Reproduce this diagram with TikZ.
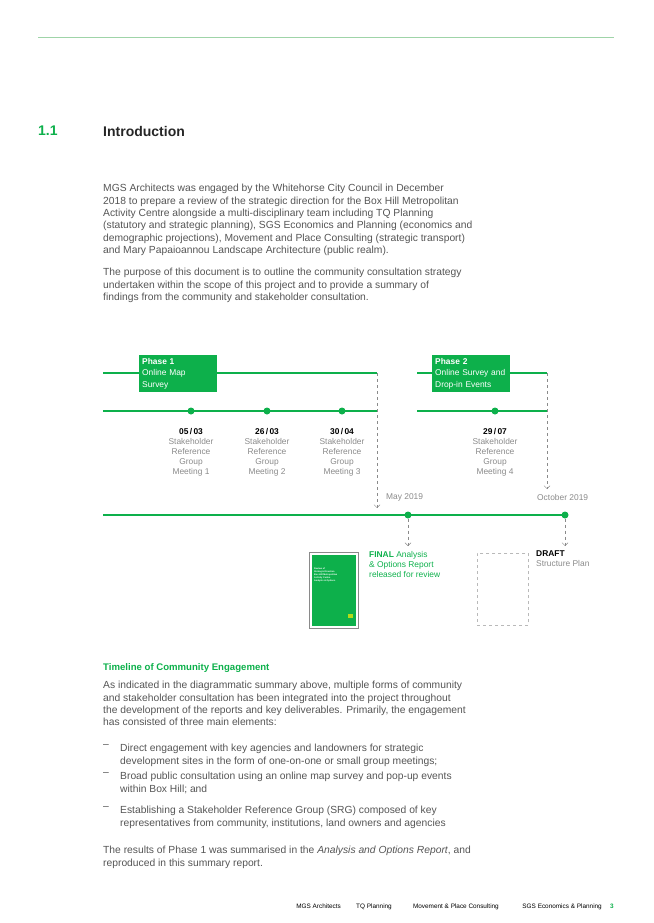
\documentclass[tikz,border=0pt]{standalone}
\usepackage{fontspec}
\setmainfont{Liberation Sans}
\usetikzlibrary{arrows.meta}
\definecolor{grn}{HTML}{0DB04B}
\definecolor{lgrn}{HTML}{9FD4A8}
\definecolor{txt}{HTML}{555555}
\definecolor{gr}{HTML}{8A8A8A}
\begin{document}
\begin{tikzpicture}[x=1pt,y=-1pt,
  body/.style={anchor=west,inner sep=0pt,font=\fontsize{10.3}{12.4}\selectfont,text=txt,align=left},
  small/.style={inner sep=0pt,font=\fontsize{8.4}{10}\selectfont,text=gr,align=center},
  tl/.style={grn,line width=1.3pt},
  dot/.style={circle,fill=grn,inner sep=0pt,minimum size=7pt},
  dsh/.style={gr,dashed,line width=0.4pt,-{Straight Barb[length=3pt,width=6pt]}},
  phase/.style={fill=grn,text=white,anchor=north west,inner sep=3pt,minimum width=78pt,minimum height=37pt,align=left,font=\fontsize{8.4}{11.5}\selectfont,text width=72pt},
  foot/.style={anchor=base east,inner sep=0pt,font=\fontsize{6.4}{7}\selectfont,text=black}]
\useasboundingbox (0,0) rectangle (653,923);
\draw[lgrn,line width=0.8pt] (38,37) -- (614,37);
\node[anchor=west,inner sep=0pt,text=grn,font=\fontsize{14}{16}\selectfont\bfseries] (num) at (38,131) {1.1};
\node[anchor=west,inner sep=0pt,font=\fontsize{14}{16}\selectfont\bfseries,text=black!85] (intro) at (103,131) {Introduction};
\node[body,anchor=north west] (p1) at (103,184) {MGS Architects was engaged by the Whitehorse City Council in December\\2018 to prepare a review of the strategic direction for the Box Hill Metropolitan\\Activity Centre alongside a multi-disciplinary team including TQ Planning\\(statutory and strategic planning), SGS Economics and Planning (economics and\\demographic projections), Movement and Place Consulting (strategic transport)\\and Mary Papaioannou Landscape Architecture (public realm).};
\node[body,anchor=north west] (p2) at (103,268) {The purpose of this document is to outline the community consultation strategy\\undertaken within the scope of this project and to provide a summary of\\findings from the community and stakeholder consultation.};
% timeline phase 1
\coordinate (a1) at (103,373); \coordinate (a2) at (377,373);
\coordinate (b1) at (103,411); \coordinate (b2) at (377,411);
\draw[tl] (a1) -- (a2); \draw[tl] (b1) -- (b2);
\node[phase] (ph1) at (139,355) {\textbf{Phase 1}\\Online Map\\Survey};
\coordinate (c1) at (417,373); \coordinate (c2) at (547,373);
\coordinate (d1) at (417,411); \coordinate (d2) at (547,411);
\draw[tl] (c1) -- (c2); \draw[tl] (d1) -- (d2);
\node[phase] (ph2) at (432,355) {\textbf{Phase 2}\\Online Survey and\\Drop-in Events};
\foreach \n/\x/\d/\m in {m1/191/{05\,/\,03}/1,m2/267/{26\,/\,03}/2,m3/342/{30\,/\,04}/3,m4/495/{29\,/\,07}/4}{
  \node[dot] (\n) at (\x,411) {};
  \node[small,anchor=north] (\n t) at (\x,428) {{\color{black}\textbf{\d}}\\Stakeholder\\Reference\\Group\\Meeting \m};
}
\coordinate (e1) at (103,515); \coordinate (e2) at (567,515);
\draw[tl] (e1) -- (e2);
\node[dot] (may) at (408,515) {};
\node[dot] (oct) at (565,515) {};
\coordinate (ma) at (377,508); \coordinate (oa) at (547,489);
\draw[dsh] (a2) -- (ma);
\draw[dsh] (c2) -- (oa);
\node[small,anchor=west] (mayt) at (386,497) {May 2019};
\node[small,anchor=west] (octt) at (537,497) {October 2019};
\coordinate (fa) at (408,546); \coordinate (da) at (565,546);
\draw[dsh] (may) -- (fa);
\draw[dsh] (oct) -- (da);
% report
\node[draw=gr,line width=0.8pt,fill=white,minimum width=49pt,minimum height=76pt,anchor=north west,inner sep=0pt] (rep) at (309,552) {};
\node[fill=grn,minimum width=44pt,minimum height=71pt,anchor=north west,inner sep=0pt] (repin) at (311.5,554.5) {};
\node[anchor=north west,inner sep=0pt,text=white,font=\fontsize{2.3}{2.8}\selectfont\bfseries,align=left] (rept) at (314,568) {Review of\\Strategic Direction\\Box Hill Metropolitan\\Activity Centre\\Analysis \& Options};
\node[fill=yellow!70!green,minimum width=5pt,minimum height=4pt,inner sep=0pt] (logo) at (350,616) {};
\node[small,anchor=north west,align=left,text=grn] (fin) at (369,551) {\textbf{FINAL} Analysis\\\& Options Report\\released for review};
\node[draw=gr!60,dashed,line width=0.6pt,minimum width=51pt,minimum height=72pt,anchor=north west,inner sep=0pt] (drb) at (477,553) {};
\node[small,anchor=north west,align=left] (drt) at (536,551) {{\color{black}\textbf{DRAFT}}\\Structure Plan};
% lower text
\node[anchor=west,inner sep=0pt,text=grn,font=\fontsize{9.6}{10}\selectfont\bfseries] (tce) at (103,668) {Timeline of Community Engagement};
\node[body,anchor=north west] (p3) at (103,681) {As indicated in the diagrammatic summary above, multiple forms of community\\and stakeholder consultation has been integrated into the project throughout\\the development of the reports and key deliverables. Primarily, the engagement\\has consisted of three main elements:};
\node[body,anchor=north west] (b1t) at (103,744) {--};
\node[body,anchor=north west] (b1x) at (120,744) {Direct engagement with key agencies and landowners for strategic\\development sites in the form of one-on-one or small group meetings;};
\node[body,anchor=north west] (b2t) at (103,772) {--};
\node[body,anchor=north west] (b2x) at (120,772) {Broad public consultation using an online map survey and pop-up events\\within Box Hill; and};
\node[body,anchor=north west] (b3t) at (103,806) {--};
\node[body,anchor=north west] (b3x) at (120,806) {Establishing a Stakeholder Reference Group (SRG) composed of key\\representatives from community, institutions, land owners and agencies};
\node[body,anchor=north west] (p4) at (103,846) {The results of Phase 1 was summarised in the \textit{Analysis and Options Report}, and\\reproduced in this summary report.};
% footer
\node[foot,text=grn,font=\fontsize{6.4}{7}\selectfont\bfseries] (pg) at (614,908) {3};
\node[foot] (f4) at (602,908) {SGS Economics \& Planning};
\node[foot] (f3) at (499,908) {Movement \& Place Consulting};
\node[foot] (f2) at (392,908) {TQ Planning};
\node[foot] (f1) at (341,908) {MGS Architects};
\end{tikzpicture}
\end{document}
